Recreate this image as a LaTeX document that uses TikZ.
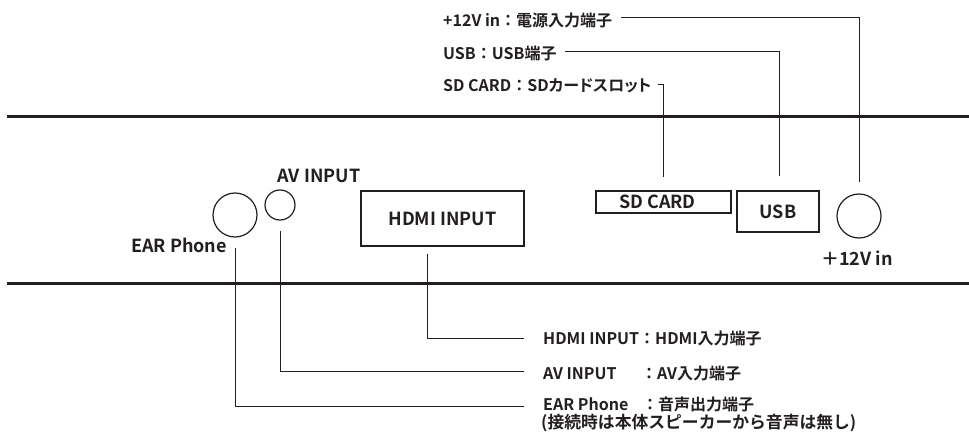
\documentclass[tikz,border=0pt]{standalone}
\usepackage{fontspec}
\setmainfont{Noto Sans CJK JP Bold}
\newfontfamily\propkana{Noto Sans CJK JP Bold}[RawFeature=+palt]
\usetikzlibrary{calc}
\definecolor{ink}{HTML}{231F20}
\tikzset{
  lead/.style={draw=ink, line width=0.9pt},
  rail/.style={draw=ink, line width=3pt},
  port/.style={draw=ink, line width=1.2pt, inner sep=0pt, text=ink},
  jack/.style={port, circle},
  slot/.style={port, rectangle, font=\fontsize{18}{20}\selectfont},
  tag/.style={font=\fontsize{18}{20}\selectfont, inner sep=0pt, text=ink},
  note/.style={font=\fontsize{16}{18}\selectfont, inner sep=0pt, anchor=west, text=ink},
}
\begin{document}
\begin{tikzpicture}[x=1pt,y=-1pt]
\useasboundingbox (0,0) rectangle (969,433);
\fill[white] (0,0) rectangle (969,433);
% panel rails
\coordinate (tl) at (7,117); \coordinate (tr) at (969,117);
\coordinate (bl) at (7,283); \coordinate (br) at (969,283);
\draw[rail] (tl) -- (tr);
\draw[rail] (bl) -- (br);
% ports
\node[jack, minimum size=44pt] (ear) at (235,215) {};
\node[jack, minimum size=30pt] (av) at (280,205) {};
\node[slot, minimum width=163pt, minimum height=55pt] (hdmi) at (442.5,218.5) {HDMI INPUT};
\node[slot, minimum width=135pt, minimum height=22pt] (sd) at (663.5,202) {\hspace*{-12pt}SD CARD};
\node[slot, minimum width=82pt, minimum height=41pt] (usb) at (778,211.5) {USB};
\node[jack, minimum size=44pt] (pwr) at (859,216) {};
% port tags
\node[tag] (avt) at (319,176) {AV INPUT};
\node[tag] (eart) at (179,245) {EAR Phone};
\node[tag] (pwrt) at (857,258) {＋12V in};
% top notes
\node[note] (l12) at (443,20) {+12V in：電源入力端子};
\node[note] (lusb) at (443,53.5) {USB：USB端子};
\node[note] (lsd) at (443,86) {SD CARD：SD{\propkana カードスロット}};
% bottom notes
\node[note] (lh) at (543,338.5) {HDMI INPUT：HDMI入力端子};
\node[note] (lav) at (543,373) {\rlap{AV INPUT}\phantom{HDMI INPUT}\hspace{2pt}：AV入力端子};
\node[note] (lear) at (543,404.5) {\rlap{EAR Phone}\phantom{HDMI INPUT}\hspace{3pt}：音声出力端子};
\node[note, font=\fontsize{16.8}{18}\selectfont] (lear2) at (541,423.5) {(接続時は本体スピーカーから音声は無し)};
% leaders, top
\draw[lead] ($(l12.east)+(9,-3)$) -| ($(pwr.north)+(0,-11)$);
\draw[lead] ($(lusb.east)+(8,-2.5)$) -| ($(usb.north)+(1,-14)$);
\draw[lead] ($(lsd.east)+(6,-2)$) -| ($(sd.north)+(-0.5,-13)$);
% leaders, bottom
\draw[lead] ($(hdmi.south)+(-15,7)$) |- ($(lh.west)+(-19,0)$);
\draw[lead] ($(av.south)+(0,10)$) |- ($(lav.west)+(-19,-2)$);
\draw[lead] ($(ear.south)+(0,10)$) |- ($(lear.west)+(-19,1.5)$);
\end{tikzpicture}
\end{document}
